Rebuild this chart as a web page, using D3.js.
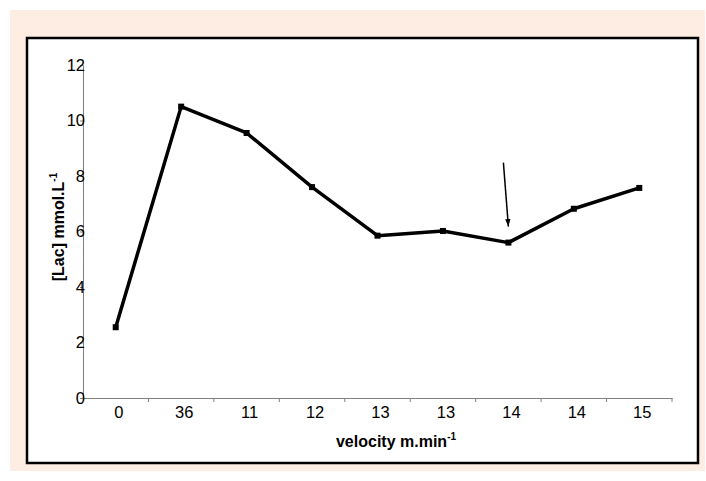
<!DOCTYPE html>
<html>
<head>
<meta charset="utf-8">
<script src="https://cdn.jsdelivr.net/npm/d3@7"></script>
<style>
  body { margin: 0; background: #fff; }
  text { font-family: "Liberation Sans", Arial, sans-serif; }
</style>
</head>
<body>
<div id="chart"></div>
<script>
// velocity categories (as labelled) and lactate values
var categories = ["0", "36", "11", "12", "13", "13", "14", "14", "15"];
var lactate = [2.55, 10.5, 9.55, 7.6, 5.85, 6.02, 5.6, 6.82, 7.57];
var yTicks = [0, 2, 4, 6, 8, 10, 12];
var arrowIndex = 6;

var width = 706, height = 481;
var margin = { left: 83, right: 34, top: 65, bottom: 83 };

var svg = d3.select("#chart").append("svg")
    .attr("width", width)
    .attr("height", height);

// peach background and black frame
svg.append("rect").attr("x", 10).attr("y", 10).attr("width", 695).attr("height", 461)
    .attr("fill", "#fdede3");
svg.append("rect").attr("x", 27).attr("y", 38).attr("width", 671).attr("height", 425)
    .attr("fill", "#fff").attr("stroke", "#000").attr("stroke-width", 2.5);

var x = d3.scaleBand()
    .domain(d3.range(categories.length))
    .range([margin.left, margin.left + 589]);

var y = d3.scaleLinear()
    .domain([0, 12])
    .range([398, 65]);

// x axis
var xAxis = svg.append("g")
    .attr("transform", "translate(0," + y(0) + ")")
    .call(d3.axisBottom(x).tickSize(0).tickFormat(function(i) { return categories[i]; }));
xAxis.select(".domain").attr("stroke", "#808080");
xAxis.selectAll("text").style("font-size", "16.5px").attr("fill", "#000").attr("dy", "1.05em").attr("dx", 3);
// tick marks at category boundaries
xAxis.selectAll(".bnd").data(d3.range(1, categories.length + 1)).enter().append("line")
    .attr("x1", function(i) { return x(i - 1) + x.bandwidth(); })
    .attr("x2", function(i) { return x(i - 1) + x.bandwidth(); })
    .attr("y1", 0).attr("y2", 4)
    .attr("stroke", "#808080");

// y axis
var yAxis = svg.append("g")
    .attr("transform", "translate(" + margin.left + ",0)")
    .call(d3.axisLeft(y).tickValues(yTicks).tickSize(3).tickPadding(-5));
yAxis.select(".domain").attr("stroke", "#808080");
yAxis.selectAll(".tick line").attr("stroke", "#808080");
yAxis.selectAll("text").style("font-size", "16.5px").attr("fill", "#000");

// axis titles
var xt = svg.append("text")
    .attr("x", 396).attr("y", 447)
    .attr("text-anchor", "middle")
    .style("font-size", "16px").attr("font-weight", "bold");
xt.append("tspan").text("velocity m.min");
xt.append("tspan").attr("dy", -7).style("font-size", "10px").text("-1");

var yt = svg.append("text")
    .attr("transform", "translate(64,227) rotate(-90)")
    .attr("text-anchor", "middle")
    .style("font-size", "16px").attr("font-weight", "bold");
yt.append("tspan").text("[Lac] mmol.L");
yt.append("tspan").attr("dy", -7).style("font-size", "10px").text("-1");

// line
var line = d3.line()
    .x(function(d, i) { return x(i) + x.bandwidth() / 2; })
    .y(function(d) { return y(d); });

svg.append("path")
    .datum(lactate)
    .attr("d", line)
    .attr("fill", "none")
    .attr("stroke", "#000")
    .attr("stroke-width", 3.5)
    .attr("stroke-linejoin", "round");

svg.append("g").selectAll("rect")
    .data(lactate)
    .enter().append("rect")
    .attr("x", function(d, i) { return x(i) + x.bandwidth() / 2 - 3; })
    .attr("y", function(d) { return y(d) - 3; })
    .attr("width", 6).attr("height", 6)
    .attr("fill", "#000");

// arrow pointing at the threshold point
svg.append("defs").append("marker")
    .attr("id", "head")
    .attr("viewBox", "0 0 10 10")
    .attr("refX", 10).attr("refY", 5)
    .attr("markerWidth", 6).attr("markerHeight", 5)
    .attr("orient", "auto")
    .append("path").attr("d", "M0,1.5L10,5L0,8.5Z").attr("fill", "#000");

var ax = x(arrowIndex) + x.bandwidth() / 2;
svg.append("line")
    .attr("x1", ax - 5).attr("y1", y(lactate[arrowIndex]) - 80)
    .attr("x2", ax).attr("y2", y(lactate[arrowIndex]) - 16)
    .attr("stroke", "#000").attr("stroke-width", 1.5)
    .attr("marker-end", "url(#head)");
</script>
</body>
</html>
